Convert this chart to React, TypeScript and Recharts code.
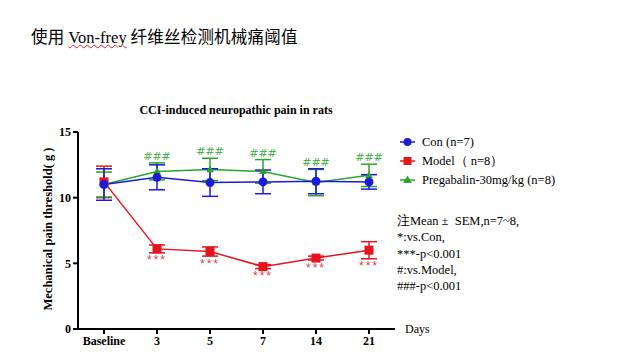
import React from "react";
import {
  LineChart,
  Line,
  XAxis,
  YAxis,
  ErrorBar,
  LabelList,
} from "recharts";

const days = ["Baseline", "3", "5", "7", "14", "21"];

const conMean = [11.0, 11.55, 11.15, 11.2, 11.25, 11.2];
const conSem = [1.2, 0.95, 1.05, 0.9, 0.95, 0.55];

const modelMean = [11.2, 6.1, 5.9, 4.75, 5.4, 6.0];
const modelSem = [1.2, 0.3, 0.35, 0.15, 0.15, 0.65];

const pregMean = [11.0, 12.0, 12.15, 12.0, 11.15, 11.7];
const pregSem = [0.95, 0.65, 0.85, 0.9, 1.0, 0.85];

const hashMarks = ["", "###", "###", "###", "###", "###"];
const starMarks = ["", "***", "***", "***", "***", "***"];

const yTicks = [0, 5, 10, 15];

const notes = [
  "注Mean ±  SEM,n=7~8,",
  "*:vs.Con,",
  "***-p<0.001",
  "#:vs.Model,",
  "###-p<0.001",
];

const BLUE = "#1c1cd6";
const RED = "#e8141c";
const GREEN = "#2aa52a";

const series = [
  { key: "con", name: "Con (n=7)", color: BLUE, shape: "circle" },
  { key: "model", name: "Model（ n=8）", color: RED, shape: "square" },
  { key: "preg", name: "Pregabalin-30mg/kg (n=8)", color: GREEN, shape: "triangle" },
];

const data = days.map((d, i) => ({
  day: d,
  con: conMean[i],
  conErr: conSem[i],
  model: modelMean[i],
  modelErr: modelSem[i],
  preg: pregMean[i],
  pregErr: pregSem[i],
  hashY: Math.max(pregMean[i] + pregSem[i], conMean[i] + conSem[i]),
  hash: hashMarks[i],
  starY: modelMean[i] - modelSem[i],
  star: starMarks[i],
}));

const serif = "'Liberation Serif', 'Times New Roman', serif";

function Marker({ cx, cy, shape, color, size }: any) {
  if (cx == null || cy == null) return null;
  if (shape === "circle") return <circle cx={cx} cy={cy} r={size} fill={color} />;
  if (shape === "square")
    return <rect x={cx - size} y={cy - size} width={size * 2} height={size * 2} fill={color} />;
  const s = size * 1.1;
  return (
    <polygon
      points={`${cx},${cy - s} ${cx + s},${cy + s * 0.7} ${cx - s},${cy + s * 0.7}`}
      fill={color}
    />
  );
}

export default function App() {
  return (
    <div
      style={{
        position: "absolute",
        left: 0,
        top: 0,
        width: 622,
        height: 361,
        background: "#fff",
        fontFamily: serif,
      }}
    >
      <div
        style={{
          position: "absolute",
          left: 31,
          top: 24,
          fontSize: 16.5,
          fontFamily: "'Noto Sans CJK SC', sans-serif",
          color: "#000",
          whiteSpace: "nowrap",
          letterSpacing: 0.2,
        }}
      >
        使用{" "}
        <span
          style={{
            fontFamily: serif,
            letterSpacing: 0,
            fontSize: 16.5,
            textDecoration: "underline wavy #d02020",
            textDecorationThickness: 1,
          }}
        >
          Von-frey
        </span>{" "}
        纤维丝检测机械痛阈值
      </div>

      <div
        style={{
          position: "absolute",
          left: 236,
          top: 110,
          transform: "translate(-50%, -50%)",
          fontWeight: "bold",
          fontSize: 12,
          fontFamily: serif,
          whiteSpace: "nowrap",
        }}
      >
        CCI-induced neuropathic pain in rats
      </div>

      <div
        style={{
          position: "absolute",
          left: 48,
          top: 229,
          transform: "translate(-50%, -50%) rotate(-90deg)",
          fontWeight: "bold",
          fontSize: 12.5,
          fontFamily: serif,
          whiteSpace: "nowrap",
        }}
      >
        Mechanical pain threshold( g )
      </div>

      <div
        style={{
          position: "absolute",
          left: 405,
          top: 329,
          transform: "translateY(-50%)",
          fontSize: 12,
          fontFamily: serif,
        }}
      >
        Days
      </div>

      <LineChart
        width={622}
        height={361}
        data={data}
        margin={{ top: 132, right: 227, bottom: 12, left: 48 }}
      >
        <XAxis
          dataKey="day"
          padding={{ left: 26, right: 26 }}
          axisLine={{ stroke: "#000", strokeWidth: 2 }}
          tickLine={{ stroke: "#000", strokeWidth: 2 }}
          tickSize={5}
          height={20}
          interval={0}
          tick={{ fill: "#000", fontSize: 12, fontWeight: "bold", fontFamily: serif }}
        />
        <YAxis
          type="number"
          domain={[0, 15]}
          ticks={yTicks}
          width={30}
          axisLine={{ stroke: "#000", strokeWidth: 2 }}
          tickLine={{ stroke: "#000", strokeWidth: 2 }}
          tickSize={5}
          tick={{ fill: "#000", fontSize: 12, fontWeight: "bold", fontFamily: serif }}
        />

        <Line
          dataKey="hashY"
          stroke="none"
          dot={false}
          activeDot={false}
          isAnimationActive={false}
          legendType="none"
        >
          <LabelList
            dataKey="hash"
            position="top"
            offset={3}
            fill="#4cb050"
            fontSize={11}
            fontFamily="'DejaVu Sans', sans-serif"
          />
        </Line>
        <Line
          dataKey="starY"
          stroke="none"
          dot={false}
          activeDot={false}
          isAnimationActive={false}
          legendType="none"
        >
          <LabelList
            dataKey="star"
            position="bottom"
            offset={3}
            fill="#d8404c"
            fontSize={12}
            letterSpacing={2}
            fontFamily="'Liberation Sans', sans-serif"
          />
        </Line>

        <Line
          dataKey="model"
          stroke={RED}
          strokeWidth={1.5}
          isAnimationActive={false}
          dot={(p: any) => <Marker key={p.index} {...p} shape="square" color={RED} size={4.5} />}
        >
          <ErrorBar dataKey="modelErr" width={8} stroke={RED} strokeWidth={1.5} direction="y" />
        </Line>
        <Line
          dataKey="preg"
          stroke={GREEN}
          strokeWidth={1.5}
          isAnimationActive={false}
          dot={(p: any) => <Marker key={p.index} {...p} shape="triangle" color={GREEN} size={3.5} />}
        >
          <ErrorBar dataKey="pregErr" width={8} stroke={GREEN} strokeWidth={1.5} direction="y" />
        </Line>
        <Line
          dataKey="con"
          stroke={BLUE}
          strokeWidth={1.5}
          isAnimationActive={false}
          dot={(p: any) => <Marker key={p.index} {...p} shape="circle" color={BLUE} size={4.5} />}
        >
          <ErrorBar dataKey="conErr" width={8} stroke={BLUE} strokeWidth={1.5} direction="y" />
        </Line>
      </LineChart>

      {series.map((s, i) => (
        <div
          key={s.key}
          style={{
            position: "absolute",
            left: 398,
            top: 133 + i * 19,
            height: 18,
            display: "flex",
            alignItems: "center",
            fontSize: 12.5,
            fontFamily: serif,
            whiteSpace: "nowrap",
          }}
        >
          <svg width={20} height={14} style={{ marginRight: 4 }}>
            <line x1={2} y1={7} x2={17} y2={7} stroke={s.color} strokeWidth={1.5} />
            <Marker cx={9.5} cy={7} shape={s.shape} color={s.color} size={4} />
          </svg>
          {s.name}
        </div>
      ))}

      <div
        style={{
          position: "absolute",
          left: 397,
          top: 213,
          fontSize: 12.5,
          fontFamily: serif,
          lineHeight: "16.3px",
          whiteSpace: "pre",
        }}
      >
        {notes.map((n) => (
          <div key={n}>{n}</div>
        ))}
      </div>
    </div>
  );
}
